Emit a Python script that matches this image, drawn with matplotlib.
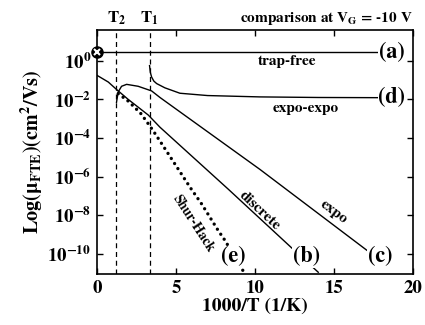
import matplotlib
matplotlib.use('Agg')
import matplotlib.pyplot as plt
import numpy as np

# --- Data (log10 of mobility in cm^2/Vs vs 1000/T) ---
T2_X = 1.22
T1_X = 3.33

trapfree_x = [0.0, 17.9]
trapfree_log = [0.45, 0.45]

expoexpo_x = [3.33, 3.38, 3.46, 3.6, 3.78, 4.3, 5.25, 7.0, 10.3, 14.0, 17.9]
expoexpo_log = [-0.25, -0.6, -0.84, -1.05, -1.18, -1.4, -1.68, -1.8, -1.87, -1.9, -1.91]

discrete_x = [0.0, 0.72, 1.25, 1.98, 3.25, 3.99, 8.31, 12.32, 14.0]
discrete_log = [-0.75, -1.10, -1.49, -2.0, -2.81, -3.44, -6.65, -9.69, -10.95]

expo_x = [1.24, 1.3, 1.35, 1.56, 1.88, 2.61, 3.46, 3.99, 10.32, 17.07, 17.4]
expo_log = [-2.15, -1.85, -1.61, -1.32, -1.22, -1.32, -1.56, -1.9, -5.63, -9.81, -10.0]

shur_x = [1.35, 2.0, 2.8, 3.5, 4.0, 5.9, 6.63, 7.68, 8.1, 9.3]
shur_log = [-1.7, -2.1, -2.75, -3.55, -4.17, -6.56, -7.42, -8.8, -9.3, -10.95]

ytick_exp = [0, -2, -4, -6, -8, -10]
xticks = [0, 5, 10, 15, 20]

plt.rcParams['font.family'] = 'STIXGeneral'
plt.rcParams['font.weight'] = 'bold'
plt.rcParams['axes.labelweight'] = 'bold'
plt.rcParams['mathtext.fontset'] = 'stix'
plt.rcParams['mathtext.default'] = 'bf'

fig = plt.figure(figsize=(4.25, 3.25), dpi=100)
ax = fig.add_axes([0.228, 0.157, 0.744, 0.751])

lw = 1.0
ax.semilogy(trapfree_x, 10 ** np.array(trapfree_log), color='black', lw=lw)
ax.semilogy(expoexpo_x, 10 ** np.array(expoexpo_log), color='black', lw=lw)
ax.semilogy(discrete_x, 10 ** np.array(discrete_log), color='black', lw=lw)
ax.semilogy(expo_x, 10 ** np.array(expo_log), color='black', lw=lw)
ax.semilogy(shur_x, 10 ** np.array(shur_log), color='black', lw=2.4,
            linestyle=(0, (0.01, 1.8)), dash_capstyle='round')

# marker at x=0 on trap-free line
ax.plot([0], [10 ** trapfree_log[0]], marker='o', ms=8, color='black',
        clip_on=False, zorder=5)
ax.plot([0], [10 ** trapfree_log[0]], marker='x', ms=5, mew=1.5, color='white',
        clip_on=False, zorder=6)

# T1, T2 markers
for xv in (T2_X, T1_X):
    ax.axvline(xv, color='black', lw=0.9, linestyle=(0, (4, 3)))
ax.text(T2_X, 10 ** 1.75, 'T$_2$', ha='center', va='bottom', fontsize=12)
ax.text(T1_X, 10 ** 1.75, 'T$_1$', ha='center', va='bottom', fontsize=12)
ax.text(20, 10 ** 1.75, 'comparison at V$_G$ = -10 V', ha='right', va='bottom',
        fontsize=11)

box = dict(facecolor='white', edgecolor='none', pad=0.5)
ax.text(18.65, 10 ** 0.45, '(a)', ha='center', va='center', fontsize=16, bbox=box, zorder=7)
ax.text(18.65, 10 ** -1.9, '(d)', ha='center', va='center', fontsize=16, bbox=box, zorder=7)
ax.text(17.9, 10 ** -10.15, '(c)', ha='center', va='center', fontsize=16, bbox=box, zorder=7)
ax.text(13.27, 10 ** -10.15, '(b)', ha='center', va='center', fontsize=16, bbox=box, zorder=7)
ax.text(8.63, 10 ** -10.15, '(e)', ha='center', va='center', fontsize=16, bbox=box, zorder=7)

ax.text(12.0, 10 ** -0.05, 'trap-free', ha='center', va='center', fontsize=11)
ax.text(13.2, 10 ** -2.45, 'expo-expo', ha='center', va='center', fontsize=11)
ax.text(10.3, 10 ** -7.75, 'discrete', ha='center', va='center', fontsize=11, rotation=-43)
ax.text(14.95, 10 ** -7.85, 'expo', ha='center', va='center', fontsize=11, rotation=-37)
ax.text(6.1, 10 ** -8.45, 'Shur-Hack', ha='center', va='center', fontsize=10, rotation=-57)

ax.set_xlim(0, 20)
ax.set_ylim(10 ** -11.04, 10 ** 1.6)
ax.set_xticks(xticks)
ax.set_xticklabels([str(v) for v in xticks])
ax.set_yticks([10.0 ** e for e in ytick_exp])
ax.set_yticklabels([r'$10^{%d}$' % e for e in ytick_exp])
ax.yaxis.set_minor_locator(matplotlib.ticker.NullLocator())
ax.tick_params(direction='in', length=4, width=1, top=True, right=True,
               labelsize=13.5, pad=4)

for s in ax.spines.values():
    s.set_linewidth(1.2)

ax.set_xlabel('1000/T (1/K)', fontsize=14, labelpad=1)
ax.set_ylabel('Log(μ$_{FTE}$)(cm$^{2}$/Vs)', fontsize=14.5, labelpad=2)

plt.savefig('out.png', dpi=100)
